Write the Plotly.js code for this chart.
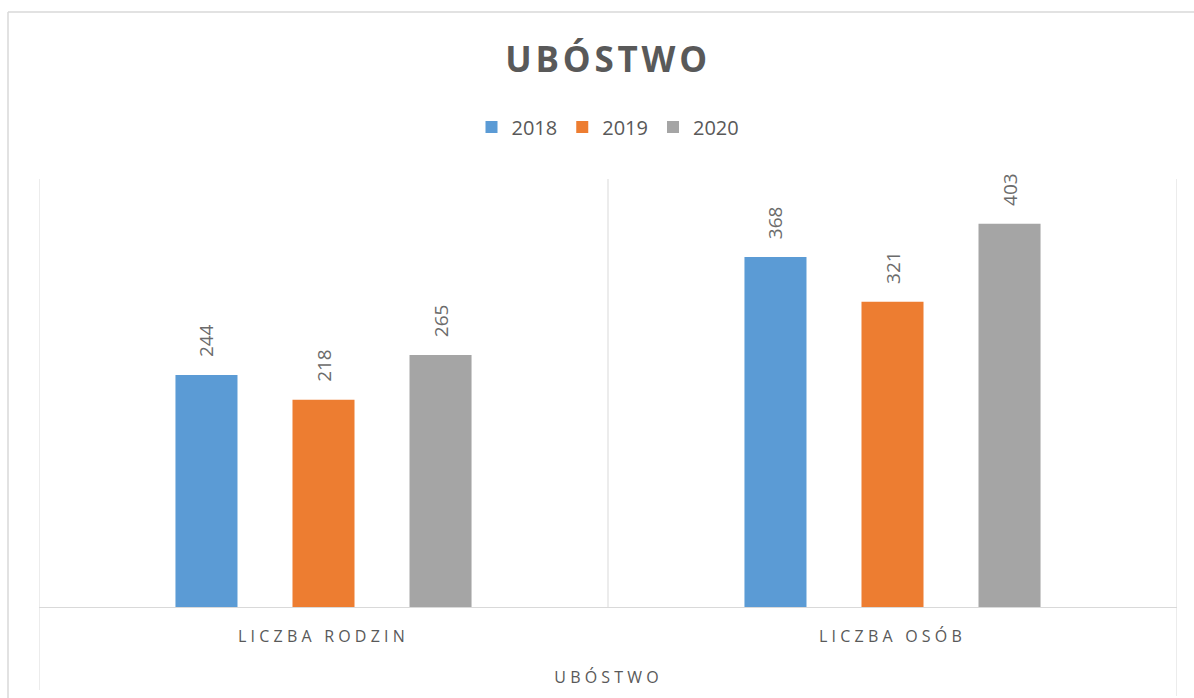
<!DOCTYPE html>
<html>
<head>
<meta charset="utf-8">
<script src="https://cdn.plot.ly/plotly-3.0.1.min.js"></script>
<style>
  html, body { margin: 0; padding: 0; background: #fff; }
  #chart { width: 1194px; height: 698px; }
  .gtitle { letter-spacing: 3.8px; }
  .xtick text { letter-spacing: 4.2px; }
  g.annotation[data-index="0"] text { letter-spacing: 4.2px; }
</style>
</head>
<body>
<div id="chart"></div>
<script>
const chartTitle = "UBÓSTWO";
const axisTitle = "UBÓSTWO";
const categories = ["LICZBA RODZIN", "LICZBA OSÓB"];
const seriesNames = ["2018", "2019", "2020"];
const values2018 = [244, 368];
const values2019 = [218, 321];
const values2020 = [265, 403];
const colors = ["#5B9BD5", "#ED7D31", "#A5A5A5"];

const textGray = "#595959";
const lineGray = "#D9D9D9";
const fontFam = "Open Sans, Liberation Sans, sans-serif";

const allValues = [values2018, values2019, values2020];
const traces = allValues.map((vals, i) => ({
  type: "bar",
  name: seriesNames[i],
  x: categories,
  y: vals,
  marker: { color: colors[i] },
  texttemplate: "\u00a0\u00a0\u00a0%{y}",
  textposition: "outside",
  textangle: -90,
  constraintext: "none",
  cliponaxis: false,
  textfont: { family: fontFam, size: 19, color: "#6b6b6b" },
  hoverinfo: "x+y+name"
}));

const layout = {
  width: 1194,
  height: 698,
  paper_bgcolor: "#ffffff",
  plot_bgcolor: "#ffffff",
  margin: { l: 39, r: 17, t: 179, b: 91 },
  font: { family: fontFam, color: textGray },
  title: {
    text: "<b>" + chartTitle + "</b>",
    x: 0.5, xref: "paper", xanchor: "center",
    y: 1 - 60 / 698, yref: "container", yanchor: "middle",
    font: { family: fontFam, size: 35, color: textGray }
  },
  showlegend: true,
  legend: {
    orientation: "h",
    x: 0.5, xanchor: "center",
    y: 1 + (179 - 127) / 428, yanchor: "middle",
    font: { family: fontFam, size: 20, color: textGray },
    itemclick: false
  },
  barmode: "group",
  bargap: 0.383,
  bargroupgap: 0.47,
  xaxis: {
    type: "category",
    range: [-0.5, 1.5],
    showline: true,
    linecolor: lineGray,
    linewidth: 1,
    showgrid: false,
    zeroline: false,
    ticks: "outside",
    ticklen: 15,
    tickcolor: "rgba(0,0,0,0)",
    tickfont: { family: fontFam, size: 16, color: textGray },
    fixedrange: true
  },
  yaxis: {
    range: [0, 450],
    showline: false,
    showgrid: false,
    zeroline: false,
    showticklabels: false,
    fixedrange: true
  },
  annotations: [
    {
      text: axisTitle,
      xref: "paper", yref: "paper",
      x: 0.5, y: -(677 - 607) / 428,
      xanchor: "center", yanchor: "middle",
      showarrow: false,
      font: { family: fontFam, size: 16, color: textGray }
    }
  ],
  shapes: [
    { type: "line", xref: "x", yref: "paper", x0: -0.5, x1: -0.5, y0: -(690 - 607) / 428, y1: 1, line: { color: lineGray, width: 1 } },
    { type: "line", xref: "x", yref: "paper", x0: 0.5, x1: 0.5, y0: 0, y1: 1, line: { color: lineGray, width: 1 } },
    { type: "line", xref: "x", yref: "paper", x0: 1.5, x1: 1.5, y0: -(696 - 607) / 428, y1: 1, line: { color: lineGray, width: 1 } },
    { type: "line", xref: "paper", yref: "paper", x0: -31 / 1138, x1: 1.05, y0: 1 + (179 - 12) / 428, y1: 1 + (179 - 12) / 428, line: { color: lineGray, width: 1.5 } },
    { type: "line", xref: "paper", yref: "paper", x0: -31 / 1138, x1: -31 / 1138, y0: 1 + (179 - 12) / 428, y1: -0.3, line: { color: lineGray, width: 1.5 } }
  ]
};

Plotly.newPlot("chart", traces, layout, { displayModeBar: false });
</script>
</body>
</html>
